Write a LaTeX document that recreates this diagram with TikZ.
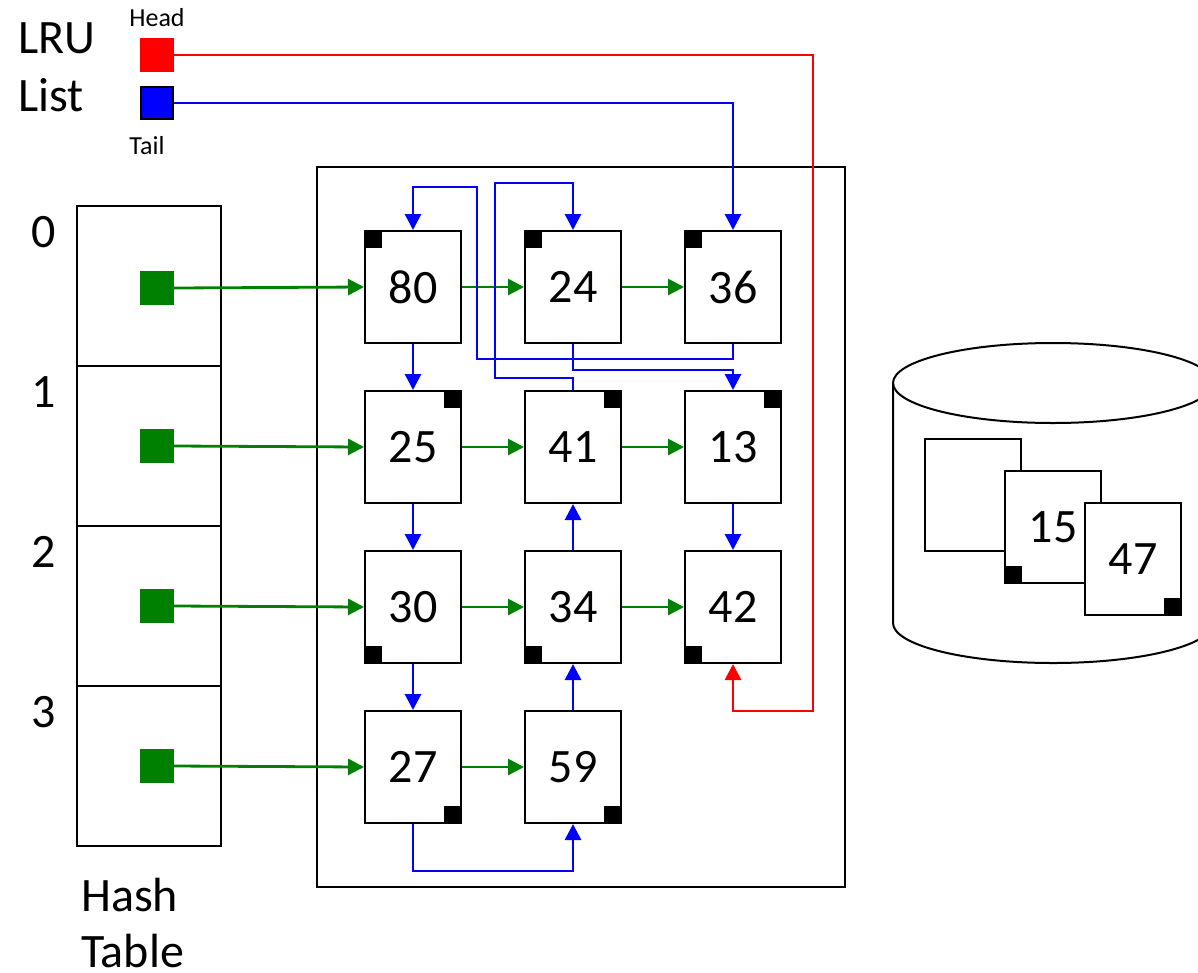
\documentclass[tikz,border=0pt]{standalone}
\usepackage{fontspec}
\setmainfont{Carlito}
\usetikzlibrary{arrows.meta}
\tikzset{
page/.style={draw, fill=white, line width=2pt, minimum width=96pt, minimum height=112pt, inner sep=0pt, font=\fontsize{48}{48}\selectfont},
flag/.style={fill=black, minimum size=18pt, inner sep=0pt},
slot/.style={draw, line width=2pt, minimum width=144pt, minimum height=160pt, inner sep=0pt},
entry/.style={fill=green!50!black, minimum size=34pt, inner sep=0pt},
bigtext/.style={font=\fontsize{48}{48}\selectfont, inner sep=0pt},
smalltext/.style={font=\fontsize{26}{26}\selectfont, inner sep=0pt},
link/.style={line width=2.8pt, -{Triangle[length=16pt,width=16pt]}}
}
\begin{document}
\begin{tikzpicture}[x=1pt, y=-1pt]
\useasboundingbox (0,0) rectangle (1198,972);
\node[draw, line width=2pt, minimum width=528pt, minimum height=720pt, inner sep=0pt] (BUF) at (581,527) {};
\node[slot] (H0) at (149,286) {};
\node[slot] (H1) at (149,446) {};
\node[slot] (H2) at (149,606) {};
\node[slot] (H3) at (149,766) {};
\node[entry] (E0) at (157,288) {};
\node[entry] (E1) at (157,446) {};
\node[entry] (E2) at (157,606) {};
\node[entry] (E3) at (157,766) {};
\node[bigtext] (N0) at (44,232) {0};
\node[bigtext] (N1) at (44,392) {1};
\node[bigtext] (N2) at (44,552) {2};
\node[bigtext] (N3) at (44,712) {3};
\node[bigtext, anchor=base west] (LRU) at (18,53) {LRU};
\node[bigtext, anchor=base west] (LST) at (18,111) {List};
\node[bigtext, anchor=base west] (HSH) at (81,911) {Hash};
\node[bigtext, anchor=base west] (TBL) at (81,967) {Table};
\node[smalltext] (HD) at (157,18) {Head};
\node[smalltext] (TL) at (147,146) {Tail};
\node[fill=red, minimum size=34pt, inner sep=0pt] (HEAD) at (157,55) {};
\node[draw, fill=blue, line width=2pt, minimum size=32pt, inner sep=0pt] (TAIL) at (157,103) {};
\node[page] (P80) at (413,287) {80};
\node[page] (P24) at (573,287) {24};
\node[page] (P36) at (733,287) {36};
\node[page] (P25) at (413,447) {25};
\node[page] (P41) at (573,447) {41};
\node[page] (P13) at (733,447) {13};
\node[page] (P30) at (413,607) {30};
\node[page] (P34) at (573,607) {34};
\node[page] (P42) at (733,607) {42};
\node[page] (P27) at (413,767) {27};
\node[page] (P59) at (573,767) {59};
\node[flag, anchor=north west] (F80) at (P80.north west) {};
\node[flag, anchor=north west] (F24) at (P24.north west) {};
\node[flag, anchor=north west] (F36) at (P36.north west) {};
\node[flag, anchor=north east] (F25) at (P25.north east) {};
\node[flag, anchor=north east] (F41) at (P41.north east) {};
\node[flag, anchor=north east] (F13) at (P13.north east) {};
\node[flag, anchor=south west] (F30) at (P30.south west) {};
\node[flag, anchor=south west] (F34) at (P34.south west) {};
\node[flag, anchor=south west] (F42) at (P42.south west) {};
\node[flag, anchor=south east] (F27) at (P27.south east) {};
\node[flag, anchor=south east] (F59) at (P59.south east) {};
\draw[line width=2pt] (1053,383) ellipse [x radius=160, y radius=40];
\draw[line width=2pt] (893,383) -- (893,623) arc [start angle=180, end angle=0, x radius=160, y radius=40] -- (1213,383);
\node[page] (D0) at (973,495) {};
\node[page] (D15) at (1053,527) {15};
\node[page] (D47) at (1133,559) {47};
\node[flag, anchor=south west] (F15) at (D15.south west) {};
\node[flag, anchor=south east] (F47) at (D47.south east) {};
\draw[link, green!50!black] (E0.east) -- (P80.west);
\draw[link, green!50!black] (E1.east) -- (P25.west);
\draw[link, green!50!black] (E2.east) -- (P30.west);
\draw[link, green!50!black] (E3.east) -- (P27.west);
\draw[link, green!50!black] (P80.east) -- (P24.west);
\draw[link, green!50!black] (P24.east) -- (P36.west);
\draw[link, green!50!black] (P25.east) -- (P41.west);
\draw[link, green!50!black] (P41.east) -- (P13.west);
\draw[link, green!50!black] (P30.east) -- (P34.west);
\draw[link, green!50!black] (P34.east) -- (P42.west);
\draw[link, green!50!black] (P27.east) -- (P59.west);
\draw[link, blue] (P80.south) -- (P25.north);
\draw[link, blue] (P25.south) -- (P30.north);
\draw[link, blue] (P30.south) -- (P27.north);
\draw[link, blue] (P59.north) -- (P34.south);
\draw[link, blue] (P34.north) -- (P41.south);
\draw[link, blue] (P13.south) -- (P42.north);
\draw[link, blue] (P27.south) |- (573,871) -- (P59.south);
\draw[link, blue] (P36.south) |- (477,359) |- (413,187) -- (P80.north);
\draw[link, blue] (P24.south) |- (733,370) -- (P13.north);
\draw[link, blue] (P41.north) |- (495,378) |- (573,183) -- (P24.north);
\draw[link, blue] (TAIL.east) -| (P36.north);
\draw[link, red] (HEAD.east) -| (813,711) -| (P42.south);
\end{tikzpicture}
\end{document}
